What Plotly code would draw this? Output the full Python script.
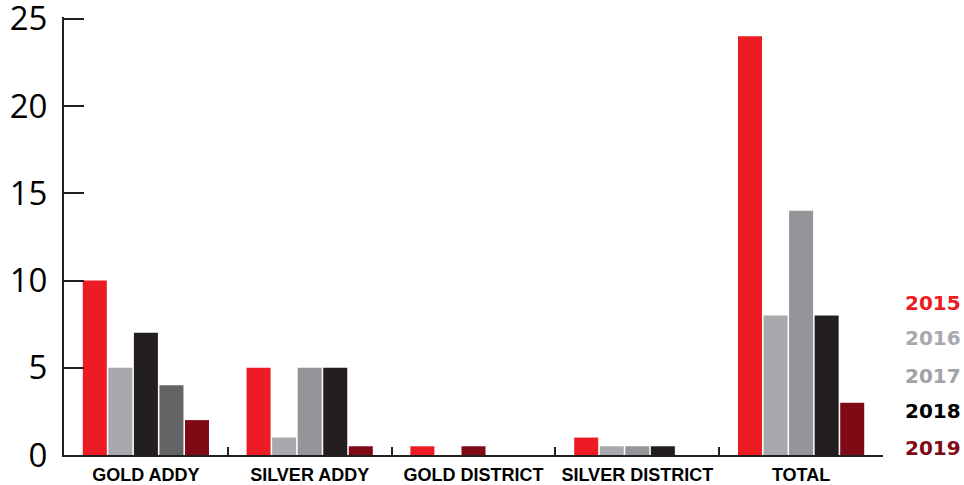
import plotly.graph_objects as go

categories = ["GOLD ADDY", "SILVER ADDY", "GOLD DISTRICT", "SILVER DISTRICT", "TOTAL"]
years = ["2015", "2016", "2017", "2018", "2019"]
v2015 = [10, 5, 0.5, 1, 24]
v2016 = [5, 1, 0, 0.5, 8]
v2017 = [7, 5, 0.5, 0.5, 14]
v2018 = [4, 5, 0, 0.5, 8]
v2019 = [2, 0.5, 0, 0, 3]
series = [v2015, v2016, v2017, v2018, v2019]
y_ticks = [0, 5, 10, 15, 20, 25]

RED = "#ED1C24"
LGRAY = "#A7A9AC"
GRAY = "#939598"
BLACK = "#231F20"
DGRAY = "#636466"
DRED = "#7F0A16"
legend_text_colors = [RED, "#A7A9AC", "#A0A2A5", "#000000", DRED]
bar_colors = [
    [RED, RED, RED, RED, RED],
    [LGRAY, LGRAY, LGRAY, LGRAY, LGRAY],
    [BLACK, GRAY, DRED, GRAY, GRAY],
    [DGRAY, BLACK, BLACK, BLACK, BLACK],
    [DRED, DRED, DRED, DRED, DRED],
]

fig = go.Figure()
for yr, vals, cols in zip(years, series, bar_colors):
    fig.add_trace(go.Bar(x=categories, y=vals, name=yr, marker=dict(color=cols, line=dict(width=0))))

for i, (yr, c) in enumerate(zip(years, legend_text_colors)):
    ypix = [303, 338, 376, 411, 448][i]
    fig.add_annotation(xref="paper", yref="paper", x=(963 - 64) / 819, y=(455 - ypix) / 438,
                       xanchor="right", yanchor="middle", text="<b>%s</b>" % yr, showarrow=False,
                       font=dict(family="DejaVu Sans", size=20, color=c))

fig.update_layout(
    width=964, height=485,
    margin=dict(l=64, r=81, t=17, b=30),
    plot_bgcolor="white", paper_bgcolor="white",
    barmode="group", bargap=0.22, bargroupgap=0.06,
    showlegend=False,
)
fig.update_xaxes(
    automargin=False,
    showline=True, linecolor=BLACK, linewidth=2,
    ticks="inside", tickson="boundaries", ticklen=8, tickwidth=2, tickcolor=BLACK,
    tickfont=dict(family="Liberation Sans", size=18, color="#000000"),
    tickprefix="<b>", ticksuffix="</b>", showgrid=False, ticklabelstandoff=2,
)
fig.update_yaxes(
    automargin=False,
    range=[0, 25.1], tickmode="array", tickvals=y_ticks, ticktext=[str(t) for t in y_ticks],
    showline=True, linecolor=BLACK, linewidth=2,
    ticks="inside", ticklen=20, tickwidth=2, tickcolor=BLACK,
    tickfont=dict(family="Open Sans", size=33, color="#000000"),
    ticklabelstandoff=8, ticklabeloverflow="allow", showgrid=False, zeroline=False,
)
fig.write_html("out.html")
